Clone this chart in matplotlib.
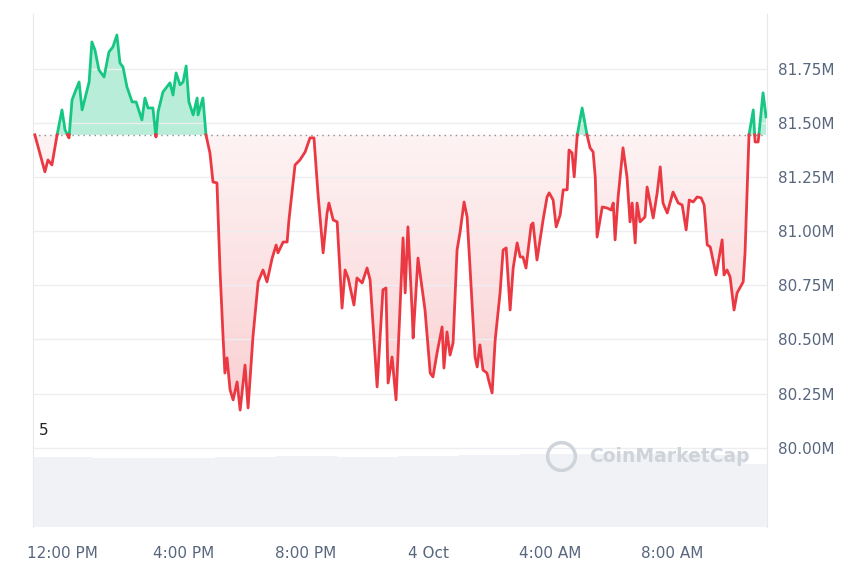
import numpy as np
import matplotlib.pyplot as plt
from matplotlib.colors import LinearSegmentedColormap

# hours since 12:00 PM, price in millions
hours = [-0.89, -0.56, -0.46, -0.33, -0.16, 0.00, 0.10, 0.23, 0.33, 0.43, 0.56, 0.66, 0.89, 0.98, 1.08,
         1.21, 1.38, 1.54, 1.67, 1.80, 1.90, 2.00, 2.13, 2.30, 2.43, 2.62, 2.72, 2.82, 2.98, 3.08,
         3.15, 3.31, 3.54, 3.64, 3.74, 3.87, 3.97, 4.07, 4.16, 4.30, 4.43, 4.46, 4.62, 4.72, 4.85,
         4.95, 5.08, 5.18, 5.28, 5.34, 5.41, 5.51, 5.61, 5.74, 5.84, 6.00, 6.10, 6.26, 6.43, 6.59,
         6.72, 6.89, 7.02, 7.08, 7.25, 7.38, 7.44, 7.64, 7.80, 7.97, 8.13, 8.26, 8.39, 8.56, 8.69,
         8.75, 8.89, 9.02, 9.18, 9.28, 9.38, 9.57, 9.67, 9.84, 10.00, 10.10, 10.33, 10.52, 10.62,
         10.69, 10.82, 10.95, 11.18, 11.25, 11.34, 11.48, 11.51, 11.67, 11.90, 12.07, 12.16, 12.30,
         12.46, 12.52, 12.62, 12.72, 12.82, 12.95, 13.05, 13.18, 13.28, 13.38, 13.54, 13.61, 13.70,
         13.80, 13.93, 14.00, 14.10, 14.20, 14.36, 14.46, 14.56, 14.69, 14.79, 14.92, 15.02, 15.11,
         15.21, 15.38, 15.44, 15.57, 15.77, 15.90, 15.97, 16.10, 16.20, 16.33, 16.43, 16.56, 16.62,
         16.72, 16.79, 16.89, 17.05, 17.21, 17.31, 17.41, 17.48, 17.54, 17.71, 17.87, 18.00, 18.07,
         18.13, 18.23, 18.39, 18.52, 18.62, 18.69, 18.79, 18.85, 18.95, 19.11, 19.18, 19.38, 19.51,
         19.61, 19.70, 19.84, 20.03, 20.20, 20.33, 20.46, 20.56, 20.69, 20.82, 20.95, 21.05, 21.15,
         21.25, 21.44, 21.64, 21.70, 21.80, 21.90, 22.03, 22.13, 22.33, 22.39, 22.52, 22.66, 22.72,
         22.82, 22.98, 23.08]
price = [81.445, 81.274, 81.329, 81.306, 81.445, 81.560, 81.468, 81.431, 81.606, 81.643, 81.689, 81.560, 81.689, 81.874, 81.837,
         81.745, 81.712, 81.828, 81.851, 81.906, 81.777, 81.758, 81.666, 81.597, 81.597, 81.514, 81.615, 81.569, 81.569, 81.435,
         81.551, 81.643, 81.685, 81.629, 81.731, 81.676, 81.689, 81.763, 81.597, 81.537, 81.615, 81.537, 81.615, 81.445, 81.361,
         81.227, 81.223, 80.821, 80.512, 80.345, 80.415, 80.267, 80.221, 80.304, 80.174, 80.382, 80.184, 80.512, 80.766, 80.821,
         80.766, 80.876, 80.936, 80.900, 80.950, 80.950, 81.052, 81.306, 81.329, 81.366, 81.431, 81.431, 81.177, 80.900, 81.084,
         81.130, 81.052, 81.043, 80.645, 80.821, 80.784, 80.659, 80.784, 80.761, 80.830, 80.775, 80.281, 80.729, 80.738,
         80.299, 80.419, 80.221, 80.969, 80.715, 81.020, 80.622, 80.507, 80.876, 80.636, 80.345, 80.327, 80.442,
         80.558, 80.368, 80.535, 80.428, 80.484, 80.913, 80.997, 81.135, 81.066, 80.821, 80.419, 80.373, 80.475,
         80.359, 80.345, 80.304, 80.253, 80.498, 80.715, 80.913, 80.923, 80.636, 80.830, 80.946, 80.881, 80.881,
         80.830, 81.029, 81.038, 80.867, 81.052, 81.158, 81.177, 81.144, 81.020, 81.075, 81.191, 81.191, 81.375,
         81.361, 81.251, 81.445, 81.569, 81.445, 81.385, 81.366, 81.251, 80.973, 81.112, 81.107, 81.098, 81.130,
         80.960, 81.158, 81.385, 81.251, 81.043, 81.130, 80.946, 81.130, 81.043, 81.066, 81.204, 81.061, 81.177,
         81.297, 81.130, 81.084, 81.181, 81.130, 81.121, 81.006, 81.144, 81.135, 81.158, 81.154, 81.121, 80.937,
         80.927, 80.798, 80.960, 80.798, 80.821, 80.789, 80.636, 80.715, 80.766, 80.900, 81.445, 81.560, 81.412,
         81.412, 81.639, 81.528]
open_price = 81.445

vol_hours = [-0.95, 1, 3, 5, 7, 9, 11, 13, 15, 17, 19, 21, 22.4, 23.11]
vol_values = [0.95, 0.94, 0.94, 0.95, 0.97, 0.96, 0.97, 0.98, 0.99, 1.0, 0.99, 0.98, 0.86, 0.86]

tick_hours = [0, 4, 8, 12, 16, 20]
tick_labels = ["12:00 PM", "4:00 PM", "8:00 PM", "4 Oct", "4:00 AM", "8:00 AM"]
price_ticks = [80.00, 80.25, 80.50, 80.75, 81.00, 81.25, 81.50, 81.75]

GREEN = "#16c784"
RED = "#ea3943"
GREY = "#58667e"

# insert crossing points so colours split exactly at the open price
t = np.array(hours)
p = np.array(price)
tt, pp = [t[0]], [p[0]]
for i in range(1, len(t)):
    a, b = p[i - 1] - open_price, p[i] - open_price
    if a * b < 0:
        f = a / (a - b)
        tt.append(t[i - 1] + f * (t[i] - t[i - 1]))
        pp.append(open_price)
    tt.append(t[i])
    pp.append(p[i])
tt = np.array(tt)
pp = np.array(pp)

fig = plt.figure(figsize=(8.6, 5.73), dpi=100)
ax = fig.add_axes([33 / 860, 46 / 573, 734 / 860, 513 / 573])
vax = ax.twinx()
vax.set_zorder(0)
ax.set_zorder(1)
ax.patch.set_visible(False)

vax.fill_between(vol_hours, 0, vol_values, step="post", color="#f0f2f5", lw=0)
vax.set_ylim(0, 7.0)
vax.set_yticks([])
for s in vax.spines.values():
    s.set_visible(False)

ax.fill_between(tt, open_price, pp, where=pp >= open_price, color=GREEN, alpha=0.3, lw=0, interpolate=True)

# red area with a vertical gradient, clipped to the area under the open price
red_area = ax.fill_between(tt, open_price, np.minimum(pp, open_price), color="none", lw=0)
cmap = LinearSegmentedColormap.from_list("rg", [(0.92, 0.22, 0.26, 0.06), (0.92, 0.22, 0.26, 0.24)])
grad = np.linspace(0, 1, 256).reshape(-1, 1)
img = ax.imshow(grad, cmap=cmap, aspect="auto", origin="upper",
                extent=[tt[0], tt[-1], 80.17, open_price], zorder=1)
img.set_clip_path(red_area.get_paths()[0], transform=ax.transData)

up = np.where(pp >= open_price, pp, np.nan)
dn = np.where(pp <= open_price, pp, np.nan)
ax.plot(tt, up, color=GREEN, lw=2, zorder=3)
ax.plot(tt, dn, color=RED, lw=2, zorder=3)
ax.axhline(open_price, color="#8a8f99", lw=1, ls=(0, (1, 3)), zorder=2)

ax.set_xlim(-0.95, 23.11)
ax.set_ylim(79.634, 82.003)
ax.set_yticks(price_ticks)
ax.set_yticklabels([f"{v:.2f}M" for v in price_ticks])
ax.yaxis.tick_right()
ax.set_xticks(tick_hours)
ax.set_xticklabels(tick_labels)
ax.tick_params(axis="both", length=0, colors=GREY, labelsize=11)
ax.tick_params(axis="x", pad=14)
ax.tick_params(axis="y", pad=8)
ax.grid(axis="y", color="#eceef2", lw=1)
for k in ["top", "bottom"]:
    ax.spines[k].set_visible(False)
ax.spines["left"].set_color("#e6e8ec")
ax.spines["right"].set_color("#e6e8ec")

ax.text(0.008, 0.18, "5", transform=ax.transAxes, fontsize=11, color="#222")
ax.plot([0.719], [0.138], "o", transform=ax.transAxes, ms=20, mfc="none", mec="#cfd3da", mew=2.5)
ax.text(0.757, 0.138, "CoinMarketCap", transform=ax.transAxes, fontsize=13.5, color="#cfd3da",
        fontweight="bold", va="center")

fig.savefig("out.png", dpi=100)
